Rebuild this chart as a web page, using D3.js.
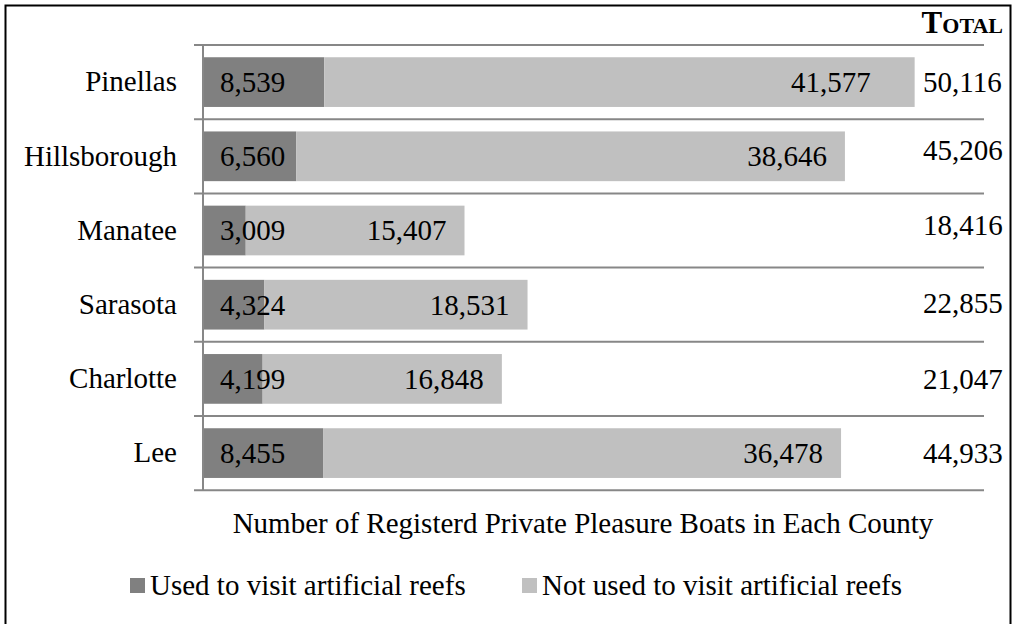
<!DOCTYPE html>
<html>
<head>
<meta charset="utf-8">
<script src="https://cdn.jsdelivr.net/npm/d3@7"></script>
<style>
  html, body { margin: 0; padding: 0; background: #fff; }
  svg { display: block; }
</style>
</head>
<body>
<svg id="chart" width="1013" height="624"></svg>
<script>
// Registered private pleasure boats per county
const counties = ["Pinellas", "Hillsborough", "Manatee", "Sarasota", "Charlotte", "Lee"];
const usedForReefs = [8539, 6560, 3009, 4324, 4199, 8455];
const notUsedForReefs = [41577, 38646, 15407, 18531, 16848, 36478];
const totals = [50116, 45206, 18416, 22855, 21047, 44933];
const seriesNames = ["Used to visit artificial reefs", "Not used to visit artificial reefs"];
const seriesColors = ["#808080", "#c0c0c0"];
const xMax = 55000;

const rows = counties.map((c, i) => ({
  county: c, used: usedForReefs[i], notUsed: notUsedForReefs[i], total: totals[i]
}));

const svg = d3.select("#chart");
const serif = '"Liberation Serif", "Times New Roman", serif';
const fontSize = 29;
const gridColor = "#878787";

// applies the shared text style
const textStyle = (sel, size = fontSize) => sel
  .style("font-family", serif)
  .style("font-size", size + "px")
  .style("fill", "#000");

// frame
svg.append("rect")
  .attr("x", 5.5).attr("y", 5.5).attr("width", 1005).attr("height", 640)
  .attr("fill", "none").attr("stroke", "#000").attr("stroke-width", 2);

const plot = { left: 203, right: 984, top: 45, bottom: 490.2 };

const x = d3.scaleLinear().domain([0, xMax]).range([plot.left, plot.right]);
const y = d3.scaleBand().domain(counties).range([plot.top, plot.bottom])
  .paddingInner(0.33).paddingOuter(0.165);

// horizontal separators between categories
const boundaries = d3.range(counties.length + 1).map(i => plot.top + i * y.step());
svg.append("g").selectAll("line").data(boundaries).join("line")
  .attr("x1", plot.left - 9).attr("x2", plot.right)
  .attr("y1", d => d).attr("y2", d => d)
  .attr("stroke", gridColor).attr("stroke-width", 2);

// stacked bars
const stack = d3.stack().keys(["used", "notUsed"]);
const layers = stack(rows);
svg.append("g").selectAll("g").data(layers).join("g")
  .attr("fill", (d, i) => seriesColors[i])
  .selectAll("rect").data(d => d).join("rect")
  .attr("x", d => x(d[0]))
  .attr("width", d => x(d[1]) - x(d[0]))
  .attr("y", d => y(d.data.county))
  .attr("height", y.bandwidth());

// vertical category axis
const yAxis = d3.axisLeft(y).tickSize(0).tickPadding(26);
const gy = svg.append("g").attr("transform", `translate(${plot.left},0)`).call(yAxis);
gy.attr("font-family", null).attr("font-size", null);
gy.select(".domain").attr("stroke", gridColor).attr("stroke-width", 2)
  .attr("d", `M0,${plot.top}V${plot.bottom}`);
gy.selectAll(".tick text").call(textStyle);

const fmt = d3.format(",");
const baseline = d => y(d.county) + y.bandwidth() / 2 + fontSize * 0.34;

// value labels: dark segment near its base
svg.append("g").selectAll("text").data(rows).join("text")
  .attr("x", x(0) + 17)
  .attr("y", baseline)
  .call(textStyle)
  .text(d => fmt(d.used));

// value labels: light segment near its end
const endNudge = { Pinellas: -26 };
svg.append("g").selectAll("text").data(rows).join("text")
  .attr("x", d => x(d.used + d.notUsed) - 18 + (endNudge[d.county] || 0))
  .attr("y", baseline)
  .attr("text-anchor", "end")
  .call(textStyle)
  .text(d => fmt(d.notUsed));

// totals column
const totalLift = { Hillsborough: -6, Manatee: -5, Sarasota: -2 };
svg.append("g").selectAll("text").data(rows).join("text")
  .attr("x", 923)
  .attr("y", d => baseline(d) + (totalLift[d.county] || 0))
  .call(textStyle)
  .text(d => fmt(d.total));

svg.append("text")
  .attr("x", 1003).attr("y", 33)
  .attr("text-anchor", "end")
  .call(textStyle, 31)
  .style("font-weight", "bold")
  .style("font-variant", "small-caps")
  .text("Total");

// axis title
svg.append("text")
  .attr("x", 583).attr("y", 533)
  .attr("text-anchor", "middle")
  .call(textStyle)
  .text("Number of Registerd Private Pleasure Boats in Each County");

// legend
const legendItems = [
  { name: seriesNames[0], color: seriesColors[0], x: 130 },
  { name: seriesNames[1], color: seriesColors[1], x: 522 }
];
const li = svg.append("g").selectAll("g").data(legendItems).join("g")
  .attr("transform", d => `translate(${d.x},0)`);
li.append("rect").attr("x", 0).attr("y", 578).attr("width", 15).attr("height", 15)
  .attr("fill", d => d.color);
li.append("text").attr("x", 20).attr("y", 595)
  .call(textStyle)
  .text(d => d.name);
</script>
</body>
</html>
